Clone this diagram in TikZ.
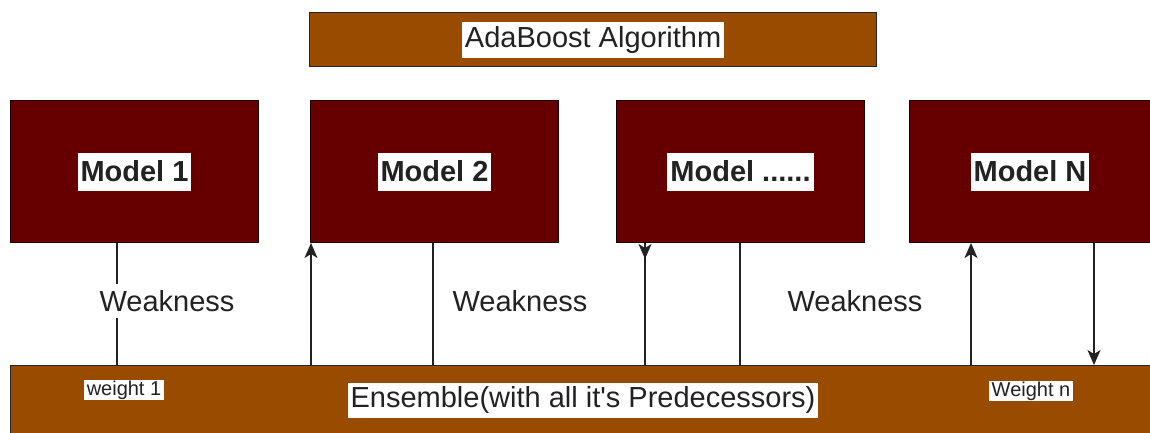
\documentclass[tikz,border=0pt]{standalone}
\usepackage{fontspec}
\setmainfont{Liberation Sans}
\usetikzlibrary{arrows.meta}
\definecolor{modelred}{HTML}{660000}
\definecolor{ensbrown}{HTML}{994C00}
\definecolor{ink}{HTML}{222222}
\begin{document}
\begin{tikzpicture}[x=1pt,y=-1pt,
  bigfont/.style={font=\fontsize{29}{34}\selectfont},
  boldfont/.style={font=\fontsize{29}{34}\selectfont\bfseries},
  smallfont/.style={font=\fontsize{20}{24}\selectfont},
  modelbox/.style={draw=black!70!modelred, line width=1pt, fill=modelred,
    minimum width=248pt, minimum height=142pt, anchor=north west, inner sep=0pt},
  barbox/.style={draw=black!85, line width=1.2pt, fill=ensbrown, anchor=north west, inner sep=0pt},
  tag/.style={fill=white, text=ink, inner xsep=3pt, inner ysep=2pt},
  weaklabel/.style={fill=white, text=ink, inner xsep=1pt, inner ysep=6pt,
    font=\fontsize{29}{34}\selectfont},
  link/.style={draw=ink, line width=1.3pt},
  headend/.style={-{Stealth[length=15pt,width=13pt,inset=4pt]}}
]
\useasboundingbox (0,0) rectangle (1150,432);

% title bar
\node[barbox, minimum width=567pt, minimum height=54pt] (top) at (309,12) {};
\node[tag, bigfont, minimum height=36pt] (toplabel) at (top.center) {AdaBoost Algorithm};

% the weak learners
\node[modelbox] (m1) at (10,100) {};
\node[modelbox] (m2) at (310,100) {};
\node[modelbox] (m3) at (616,100) {};
\node[modelbox, minimum width=241pt] (m4) at (909,100) {};
\node[tag, boldfont, minimum height=38pt] (m1label) at (m1.center) {Model 1};
\node[tag, boldfont, minimum height=38pt] (m2label) at (m2.center) {Model 2};
\node[tag, boldfont, minimum height=38pt] (m3label) at (m3.center) {Model ......};
\node[tag, boldfont, minimum height=38pt] (m4label) at (m4.center) {Model N};

% ensemble bar
\node[barbox, minimum width=1142pt, minimum height=68pt] (ens) at (10,365) {};
\node[tag, bigfont, minimum height=35pt] (enslabel) at (583,400) {Ensemble(with all it\textquotesingle s Predecessors)};
\node[tag, smallfont, inner ysep=1pt] (w1) at (124,390) {weight 1};
\node[tag, smallfont, inner ysep=1pt] (wn) at (1031,391) {Weight n};

% connector positions
\coordinate (x1) at (117,0);
\coordinate (x2) at (311,0);
\coordinate (x3) at (433,0);
\coordinate (x4) at (645,0);
\coordinate (x5) at (740,0);
\coordinate (x6) at (971,0);
\coordinate (x7) at (1094,0);

\draw[link] (m1.south -| x1) -- (ens.north -| x1);
\draw[link, headend] (ens.north -| x2) -- (m2.south -| x2);
\draw[link] (m2.south -| x3) -- (ens.north -| x3);
% this link carries its head just under the box, pointing down
\draw[link] (m3.south -| x4) -- (ens.north -| x4);
\draw[link, headend] (m3.south -| x4) -- ++(0,16);
\draw[link] (m3.south -| x5) -- (ens.north -| x5);
\draw[link, headend] (ens.north -| x6) -- (m4.south -| x6);
\draw[link, headend] (m4.south -| x7) -- (ens.north -| x7);

% weakness labels, drawn over the connectors
\node[weaklabel] (wk1) at (167,301) {Weakness};
\node[weaklabel] (wk2) at (520,301) {Weakness};
\node[weaklabel] (wk3) at (855,301) {Weakness};
\end{tikzpicture}
\end{document}
